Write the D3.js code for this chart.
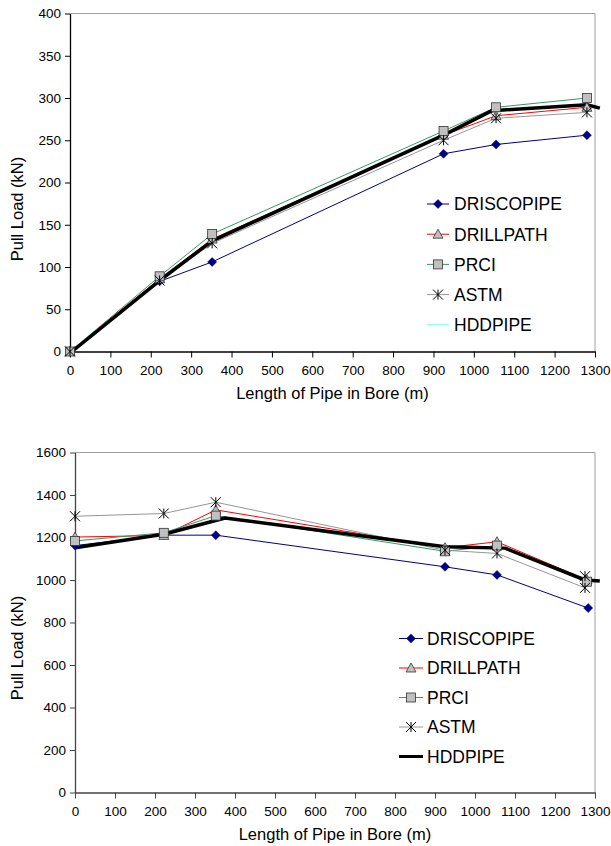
<!DOCTYPE html>
<html>
<head>
<meta charset="utf-8">
<script src="https://cdn.jsdelivr.net/npm/d3@7"></script>
<style>
  html, body { margin: 0; padding: 0; background: #fff; }
  svg { display: block; font-family: Arial, "Liberation Sans", sans-serif; }
</style>
</head>
<body>
<svg id="chart" width="611" height="846"></svg>
<script>
// ---------- DATA ----------
const seriesNames = ["DRISCOPIPE", "DRILLPATH", "PRCI", "ASTM", "HDDPIPE"];
const xTicks = [0, 100, 200, 300, 400, 500, 600, 700, 800, 900, 1000, 1100, 1200, 1300];
const yTicksTop = [0, 50, 100, 150, 200, 250, 300, 350, 400];
const yTicksBottom = [0, 200, 400, 600, 800, 1000, 1200, 1400, 1600];

// Top chart (pull load, kN) : [length m, load kN]
const topDrisco = [[0, 0], [222, 83], [352, 106], [925, 234], [1055, 245], [1280, 256]];
const topDrill  = [[0, 0], [222, 86], [352, 133], [925, 256], [1055, 279], [1280, 289]];
const topPrci   = [[0, 0], [222, 89], [352, 139], [925, 261], [1055, 289], [1280, 300]];
const topAstm   = [[0, 0], [222, 84], [352, 128], [925, 250], [1055, 276], [1280, 283]];
const topHdd    = [[5, 0], [222, 84], [352, 131], [925, 256], [1045, 285], [1280, 292], [1312, 288]];

// Bottom chart
const botDrisco = [[0, 1162], [222, 1211], [352, 1211], [925, 1062], [1055, 1024], [1283, 868]];
const botDrill  = [[0, 1202], [222, 1210], [352, 1330], [925, 1152], [1055, 1180], [1280, 1000]];
const botPrci   = [[0, 1184], [222, 1222], [352, 1303], [925, 1135], [1055, 1162], [1280, 992]];
const botAstm   = [[0, 1300], [222, 1313], [352, 1366], [925, 1140], [1055, 1125], [1275, 963], [1275, 1018]];
const botHdd    = [[0, 1152], [222, 1215], [375, 1292], [925, 1156], [1075, 1150], [1275, 1000], [1312, 995]];

// ---------- STYLES ----------
const styles = {
  DRISCOPIPE: { color: "#000080", width: 1, marker: "diamond" },
  DRILLPATH:  { color: "#ff0000", width: 1, marker: "triangle" },
  PRCI:       { color: "#339966", width: 1, marker: "square" },
  ASTM:       { color: "#969696", width: 1, marker: "star" },
  HDDPIPE:    { color: "#000000", width: 3.5, marker: null }
};

const svg = d3.select("#chart");

function drawMarker(g, type, cx, cy) {
  if (type === "diamond") {
    const s = 4.5;
    g.append("path").attr("d", `M${cx},${cy - s}L${cx + s},${cy}L${cx},${cy + s}L${cx - s},${cy}Z`)
      .attr("fill", "#000080").attr("stroke", "#000080").attr("stroke-width", 0.5);
  } else if (type === "triangle") {
    const s = 5;
    g.append("path").attr("d", `M${cx},${cy - s}L${cx + s},${cy + s * 0.8}L${cx - s},${cy + s * 0.8}Z`)
      .attr("fill", "#c0c0c0").attr("stroke", "#333").attr("stroke-width", 0.8);
  } else if (type === "square") {
    const s = 4.5;
    g.append("rect").attr("x", cx - s).attr("y", cy - s).attr("width", 2 * s).attr("height", 2 * s)
      .attr("fill", "#c0c0c0").attr("stroke", "#333").attr("stroke-width", 0.8);
  } else if (type === "star") {
    const s = 5;
    g.append("path")
      .attr("d", `M${cx - s},${cy - s}L${cx + s},${cy + s}M${cx - s},${cy + s}L${cx + s},${cy - s}M${cx},${cy - s}L${cx},${cy + s}`)
      .attr("stroke", "#000").attr("stroke-width", 1).attr("fill", "none");
  }
}

function drawChart(cfg) {
  const { x0, x1, yTop, yBot, yMax, yTicks, data, axisColor, legend, yTitleY, xTitleY } = cfg;
  const x = d3.scaleLinear().domain([0, 1300]).range([x0, x1]);
  const y = d3.scaleLinear().domain([0, yMax]).range([yBot, yTop]);
  const g = svg.append("g");

  // frame (top & right)
  g.append("path").attr("d", `M${x0},${yTop}H${x1}V${yBot}`)
    .attr("fill", "none").attr("stroke", "#a0a0a0").attr("stroke-width", 1);

  // axes
  const fmt = d3.format("d");
  const xAxis = d3.axisBottom(x).tickValues(xTicks).tickFormat(fmt).tickSize(6).tickSizeOuter(0).tickPadding(8);
  const yAxis = d3.axisLeft(y).tickValues(yTicks).tickFormat(fmt).tickSize(5).tickSizeOuter(0).tickPadding(4);
  const gx = g.append("g").attr("transform", `translate(0,${yBot})`).call(xAxis);
  const gy = g.append("g").attr("transform", `translate(${x0},0)`).call(yAxis);
  [gx, gy].forEach(a => {
    a.select(".domain").attr("stroke", axisColor).attr("stroke-width", 1.3);
    a.selectAll(".tick line").attr("stroke", axisColor);
    a.selectAll(".tick text").attr("fill", "#000").style("font-size", "13.5px")
      .style("font-family", "Arial, 'Liberation Sans', sans-serif");
  });

  // titles
  g.append("text").attr("x", (x0 + x1) / 2).attr("y", xTitleY).attr("text-anchor", "middle")
    .style("font-size", "16.5px").text("Length of Pipe in Bore (m)");
  g.append("text").attr("transform", `translate(23,${yTitleY}) rotate(-90)`).attr("text-anchor", "middle")
    .style("font-size", "16.5px").text("Pull Load (kN)");

  // lines
  const line = d3.line().x(d => x(d[0])).y(d => y(d[1]));
  data.forEach((d, i) => {
    const st = styles[seriesNames[i]];
    g.append("path").datum(d).attr("d", line).attr("fill", "none")
      .attr("stroke", st.color).attr("stroke-width", st.width).attr("stroke-linejoin", "round");
  });
  // markers
  data.forEach((d, i) => {
    const st = styles[seriesNames[i]];
    if (!st.marker) return;
    d.forEach(p => drawMarker(g, st.marker, x(p[0]), y(p[1])));
  });

  // legend
  seriesNames.forEach((name, i) => {
    const st = styles[name];
    const ly = legend.y0 + i * legend.dy;
    const lc = (name === "HDDPIPE" && legend.hddColor) ? legend.hddColor : st.color;
    const lw = (name === "HDDPIPE" && legend.hddColor) ? 1 : (name === "HDDPIPE" ? 3 : 1);
    g.append("line").attr("x1", legend.lx0).attr("x2", legend.lx1).attr("y1", ly).attr("y2", ly)
      .attr("stroke", lc).attr("stroke-width", lw);
    if (st.marker) drawMarker(g, st.marker, (legend.lx0 + legend.lx1) / 2, ly);
    g.append("text").attr("x", legend.tx).attr("y", ly).attr("dy", "0.36em")
      .style("font-size", "17.5px").text(name);
  });
}

drawChart({
  x0: 70, x1: 595, yTop: 13.5, yBot: 351.5, yMax: 400, yTicks: yTicksTop,
  data: [topDrisco, topDrill, topPrci, topAstm, topHdd],
  axisColor: "#000",
  legend: { lx0: 427, lx1: 449, tx: 454, y0: 204, dy: 30.2, hddColor: "#66ffff" },
  yTitleY: 209, xTitleY: 399
});

drawChart({
  x0: 75, x1: 595, yTop: 452.5, yBot: 792.5, yMax: 1600, yTicks: yTicksBottom,
  data: [botDrisco, botDrill, botPrci, botAstm, botHdd],
  axisColor: "#444",
  legend: { lx0: 399, lx1: 423, tx: 427, y0: 638.5, dy: 29.5, hddColor: null },
  yTitleY: 648, xTitleY: 840
});
</script>
</body>
</html>
